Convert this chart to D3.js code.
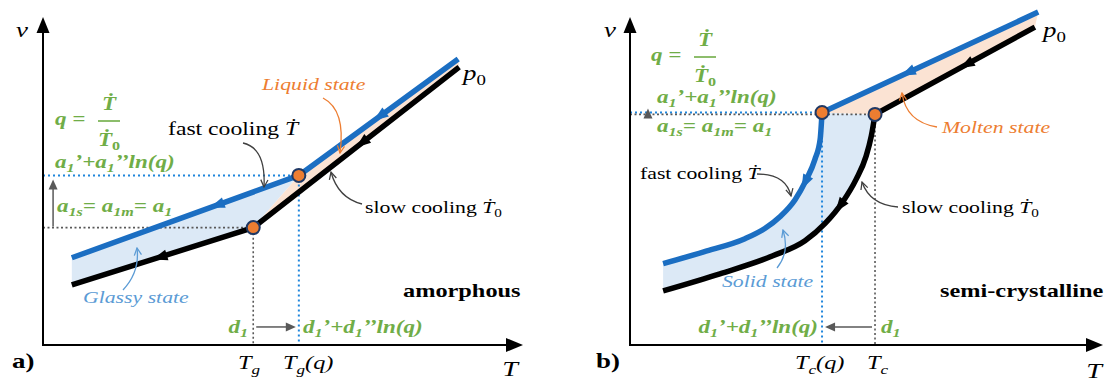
<!DOCTYPE html>
<html>
<head>
<meta charset="utf-8">
<script src="https://cdn.jsdelivr.net/npm/d3@7"></script>
<style>
  html, body { margin: 0; padding: 0; background: #fff; }
  svg { display: block; }
</style>
</head>
<body>
<div id="chart"></div>
<script>
// =====================================
// DATA  (axis units: T and v both run 0..100)
// =====================================

// panel a) amorphous
const aBlue = [[6, 26.6], [53.3, 51.7], [86.5, 87.2]];   // fast cooling
const aBlack = [[6, 18.3], [43.8, 35.8], [86.7, 84.7]];  // slow cooling
const aTg = 43.8, aTgq = 53.3;
const aV1 = 35.8, aV1q = 51.7;
const aFlowBlue = [36.3, 70.2];   // T of the arrowheads on the curves
const aFlowBlack = [24.4, 66.5];

// panel b) semi-crystalline
const bBlueSolid = [[7, 24.8], [15.6, 28.4], [24.3, 32.4], [28.5, 35.5], [31.7, 39.1],
  [34.9, 44.3], [37.2, 50.2], [39.1, 56.6], [40.2, 62.7], [40.6, 70.9]];
const bBlueMelt = [[40.6, 70.9], [86.3, 101.5]];
const bBlackSolid = [[7, 16.5], [19, 21.7], [30.2, 27.2], [37, 31.8], [41.2, 37],
  [45, 43.7], [47.8, 50.5], [49.9, 57.5], [51, 63.6], [51.8, 70.3]];
const bBlackMelt = [[51.8, 70.3], [85.6, 96.9]];
const bTc = 51.8, bTcq = 40.6;
const bV1 = 70.3, bV1q = 70.9;
const bFlowBlue = [37, 58.8];
const bFlowBlack = [44.4, 71.2];

const dShiftV = 5.5;   // level of the d1 shift arrows

// =====================================
// SETUP
// =====================================

const W = 1110, H = 381;
const FONT = "'Liberation Serif','Times New Roman','DejaVu Serif',serif";
const C = {
  blue: "#1b6ec2", dotBlue: "#1f86dc", gray: "#595959",
  fillBlue: "#dce9f6", fillPeach: "#fbe3d3",
  dot: "#ed7d31", dotEdge: "#1f3864",
  green: "#70ad47", orange: "#ed7d31", lblBlue: "#5b9bd5", note: "#404040"
};

const svg = d3.select("#chart").append("svg")
  .attr("width", W).attr("height", H)
  .attr("viewBox", `0 0 ${W} ${H}`);
const defs = svg.append("defs");

const yS = d3.scaleLinear().domain([0, 100]).range([345, 17]);
const xA = d3.scaleLinear().domain([0, 100]).range([43, 523]);
const xB = d3.scaleLinear().domain([0, 100]).range([630, 1103]);

// layers
const gFill = svg.append("g");
const gGuide = svg.append("g");
const gAxis = svg.append("g");
const gLine = svg.append("g");
const gMark = svg.append("g");
const gNote = svg.append("g");
const gText = svg.append("g");

// =====================================
// HELPERS
// =====================================

function tri(g, tip, dir, len, half, color) {
  const [dx, dy] = dir, nx = -dy, ny = dx;
  const bx = tip[0] - dx * len, by = tip[1] - dy * len;
  g.append("path")
    .attr("d", `M${tip[0]},${tip[1]}L${bx + nx * half},${by + ny * half}L${bx - nx * half},${by - ny * half}Z`)
    .attr("fill", color);
}

function arrow(g, x1, y1, x2, y2, color, width = 1.5) {
  let dx = x2 - x1, dy = y2 - y1;
  const n = Math.hypot(dx, dy); dx /= n; dy /= n;
  g.append("line")
    .attr("x1", x1).attr("y1", y1)
    .attr("x2", x2 - dx * 8).attr("y2", y2 - dy * 8)
    .attr("stroke", color).attr("stroke-width", width);
  tri(g, [x2, y2], [dx, dy], 10, 4.5, color);
}

function axes(x) {
  const x0 = x(0), y0 = yS(0), xt = x(100), yt = yS(100);
  gAxis.append("line").attr("x1", x0).attr("y1", y0 + 1).attr("x2", x0).attr("y2", yt + 12)
    .attr("stroke", "#000").attr("stroke-width", 2);
  tri(gAxis, [x0, yt], [0, -1], 16, 6.5, "#000");
  gAxis.append("line").attr("x1", x0 - 1).attr("y1", y0).attr("x2", xt - 12).attr("y2", y0)
    .attr("stroke", "#000").attr("stroke-width", 2);
  tri(gAxis, [xt, y0], [1, 0], 17, 7, "#000");
}

function guide(x, T, v, color, dash, w) {
  gGuide.append("path")
    .attr("d", `M${x(0)},${yS(v)}H${x(T)}V${yS(0)}`)
    .attr("fill", "none").attr("stroke", color)
    .attr("stroke-width", w).attr("stroke-dasharray", dash);
}

// arrowheads pointing "backwards" along a path (cooling direction)
function flow(path, xs, x, color) {
  const node = path.node(), L = node.getTotalLength();
  xs.forEach(T => {
    const px = x(T);
    let lo = 0, hi = L;
    for (let i = 0; i < 40; i++) {
      const m = (lo + hi) / 2;
      if (node.getPointAtLength(m).x < px) lo = m; else hi = m;
    }
    const p = node.getPointAtLength(lo), q = node.getPointAtLength(Math.max(0, lo - 3));
    let dx = q.x - p.x, dy = q.y - p.y;
    const n = Math.hypot(dx, dy) || 1; dx /= n; dy /= n;
    tri(gMark, [p.x + dx * 8, p.y + dy * 8], [dx, dy], 15, 5.5, color);
  });
}

function sample(path, maxX) {
  const node = path.node(), L = node.getTotalLength(), out = [];
  for (let l = 0; l <= L; l += 1) {
    const p = node.getPointAtLength(l);
    if (p.x <= maxX + 0.3) out.push([p.x, p.y]);
  }
  return out;
}

function dot(x, T, v) {
  gMark.append("circle")
    .attr("cx", x(T)).attr("cy", yS(v)).attr("r", 6.5)
    .attr("fill", C.dot).attr("stroke", C.dotEdge).attr("stroke-width", 2);
}

const markers = {};
function marker(color) {
  if (markers[color]) return markers[color];
  const id = "m" + Object.keys(markers).length;
  defs.append("marker")
    .attr("id", id).attr("viewBox", "0 0 10 10")
    .attr("refX", 9).attr("refY", 5)
    .attr("markerWidth", 9).attr("markerHeight", 9)
    .attr("markerUnits", "userSpaceOnUse").attr("orient", "auto")
    .append("path").attr("d", "M1,1L9,5L1,9")
    .attr("fill", "none").attr("stroke", color).attr("stroke-width", 1.4);
  markers[color] = `url(#${id})`;
  return markers[color];
}

function note(x1, y1, cx, cy, x2, y2, color) {
  gNote.append("path")
    .attr("d", `M${x1},${y1}Q${cx},${cy} ${x2},${y2}`)
    .attr("fill", "none").attr("stroke", color).attr("stroke-width", 1.3)
    .attr("marker-end", marker(color));
}

// markup: _{sub}  *italic*
function label(x, y, markup, o = {}) {
  const size = o.size || 17;
  const t = gText.append("text")
    .attr("transform", `translate(${x},${y}) scale(${o.sx || 1.28},1)`)
    .attr("text-anchor", o.anchor || "start")
    .style("font-family", FONT)
    .style("font-size", size + "px")
    .style("font-style", o.italic ? "italic" : "normal")
    .style("font-weight", o.bold ? "bold" : "normal")
    .style("fill", o.color || "#000");
  const sh = size * 0.24;
  let down = false;
  markup.split(/(_\{[^}]*\}|\*[^*]*\*)/).filter(s => s !== "").forEach(p => {
    const s = t.append("tspan");
    if (p.startsWith("_{")) {
      s.attr("dy", down ? 0 : sh).style("font-size", "70%").text(p.slice(2, -1));
      down = true;
      return;
    }
    if (down) { s.attr("dy", -sh); down = false; }
    if (p.startsWith("*")) s.style("font-style", "italic").text(p.slice(1, -1));
    else s.text(p);
  });
  return t;
}

function fraction(cx, y, color) {
  label(cx - 54, y + 15, "q =", { size: 18, bold: true, italic: true, color });
  label(cx, y, "Ṫ", { size: 18, bold: true, italic: true, color, anchor: "middle" });
  gText.append("line").attr("x1", cx - 11).attr("x2", cx + 11)
    .attr("y1", y + 11).attr("y2", y + 11)
    .attr("stroke", color).attr("stroke-width", 1.6);
  label(cx, y + 36, "*Ṫ*_{0}", { size: 18, bold: true, color, anchor: "middle" });
}

const G = { size: 18, bold: true, italic: true, color: C.green };

// =====================================
// PANEL A — AMORPHOUS
// =====================================

const lineA = d3.line().x(d => xA(d[0])).y(d => yS(d[1]));

axes(xA);

gFill.append("path")
  .attr("d", lineA([aBlue[0], aBlue[1], aBlack[1], aBlack[0]]) + "Z")
  .attr("fill", C.fillBlue);
gFill.append("path")
  .attr("d", lineA([aBlue[1], aBlue[2], aBlack[2], aBlack[1]]) + "Z")
  .attr("fill", C.fillPeach);

guide(xA, aTgq, aV1q, C.dotBlue, "2,3", 2);
guide(xA, aTg, aV1, C.gray, "2,2.5", 1.6);

const aBlackPath = gLine.append("path").attr("d", lineA(aBlack))
  .attr("fill", "none").attr("stroke", "#000").attr("stroke-width", 5.5).attr("stroke-linejoin", "round");
const aBluePath = gLine.append("path").attr("d", lineA(aBlue))
  .attr("fill", "none").attr("stroke", C.blue).attr("stroke-width", 5.5).attr("stroke-linejoin", "round");

flow(aBluePath, aFlowBlue, xA, C.blue);
flow(aBlackPath, aFlowBlack, xA, "#000");
dot(xA, aTg, aV1);
dot(xA, aTgq, aV1q);

arrow(gGuide, xA(2.1), yS(aV1) - 1, xA(2.1), yS(aV1q) + 4, C.gray);
arrow(gGuide, xA(aTg) + 3, yS(dShiftV), xA(aTgq) - 3, yS(dShiftV), C.gray);

note(243, 143, 266, 148, 264, 187, C.note);
note(323, 98, 346, 110, 340, 153, C.orange);
note(362, 204, 338, 198, 331, 172, C.note);
note(123, 290, 140, 272, 137, 248, C.lblBlue);

label(22, 37, "v", { size: 21, italic: true, anchor: "middle" });
label(510, 376, "T", { size: 22, italic: true, anchor: "middle" });
label(12, 368, "a)", { size: 21, bold: true });
label(238, 369, "T_{g}", { size: 19, italic: true });
label(283, 369, "T_{g}(q)", { size: 19, italic: true });
fraction(109, 110, C.green);
label(55, 168, "a_{1}’+a_{1}’’ln(q)", G);
label(57, 212, "a_{1s}= a_{1m}= a_{1}", G);
label(248, 333, "d_{1}", { ...G, anchor: "end" });
label(303, 333, "d_{1}’+d_{1}’’ln(q)", G);
label(168, 135, "fast cooling *Ṫ*", { size: 18.5 });
label(365, 213, "slow cooling *Ṫ*_{0}");
label(262, 90, "Liquid state", { italic: true, color: C.orange });
label(83, 303, "Glassy state", { italic: true, color: C.lblBlue });
label(403, 297, "amorphous", { size: 19, bold: true });
label(463, 80, "*p*_{0}", { size: 21 });

// =====================================
// PANEL B — SEMI-CRYSTALLINE
// =====================================

const lineB = d3.line().x(d => xB(d[0])).y(d => yS(d[1]));
const curveB = d3.line().x(d => xB(d[0])).y(d => yS(d[1])).curve(d3.curveMonotoneX);

axes(xB);

const bBlackPath = gLine.append("path")
  .attr("d", curveB(bBlackSolid) + lineB(bBlackMelt).replace(/^M/, "L"))
  .attr("fill", "none").attr("stroke", "#000").attr("stroke-width", 5.5).attr("stroke-linejoin", "round");
const bBluePath = gLine.append("path")
  .attr("d", curveB(bBlueSolid) + lineB(bBlueMelt).replace(/^M/, "L"))
  .attr("fill", "none").attr("stroke", C.blue).attr("stroke-width", 5.5).attr("stroke-linejoin", "round");

const blueEdge = sample(bBluePath, xB(bTcq));
const blackEdge = sample(bBlackPath, xB(bTc));
gFill.append("path")
  .attr("d", d3.line()(blueEdge.concat(blackEdge.reverse())) + "Z")
  .attr("fill", C.fillBlue);
gFill.append("path")
  .attr("d", lineB([bBlueMelt[0], bBlueMelt[1], bBlackMelt[1], bBlackMelt[0]]) + "Z")
  .attr("fill", C.fillPeach);

guide(xB, bTcq, bV1q, C.dotBlue, "2,3", 2);
guide(xB, bTc, bV1, C.gray, "2,2.5", 1.6);

flow(bBluePath, bFlowBlue, xB, C.blue);
flow(bBlackPath, bFlowBlack, xB, "#000");
dot(xB, bTcq, bV1q);
dot(xB, bTc, bV1);

arrow(gGuide, xB(3.8), yS(bV1) + 2, xB(3.8), yS(bV1q) - 4, C.gray);
arrow(gGuide, xB(bTc) - 3, yS(dShiftV), xB(bTcq) + 3, yS(dShiftV), C.gray);

note(757, 174, 786, 174, 791, 196, C.note);
note(898, 207, 870, 205, 862, 182, C.note);
note(937, 127, 906, 122, 902, 93, C.orange);
note(777, 268, 790, 252, 783, 230, C.lblBlue);

label(610, 37, "v", { size: 21, italic: true, anchor: "middle" });
label(1094, 378, "T", { size: 22, italic: true, anchor: "middle" });
label(596, 368, "b)", { size: 21, bold: true });
label(795, 369, "T_{c}(q)", { size: 19, italic: true });
label(867, 369, "T_{c}", { size: 19, italic: true });
fraction(705, 46, C.green);
label(657, 103, "a_{1}’+a_{1}’’ln(q)", G);
label(657, 132, "a_{1s}= a_{1m}= a_{1}", G);
label(881, 333, "d_{1}", G);
label(818, 333, "d_{1}’+d_{1}’’ln(q)", { ...G, anchor: "end" });
label(640, 179, "fast cooling *Ṫ*");
label(902, 213, "slow cooling *Ṫ*_{0}");
label(942, 133, "Molten state", { italic: true, color: C.orange });
label(722, 287, "Solid state", { italic: true, color: C.lblBlue });
label(940, 297, "semi-crystalline", { size: 19, bold: true });
label(1043, 37, "*p*_{0}", { size: 21 });
</script>
</body>
</html>
